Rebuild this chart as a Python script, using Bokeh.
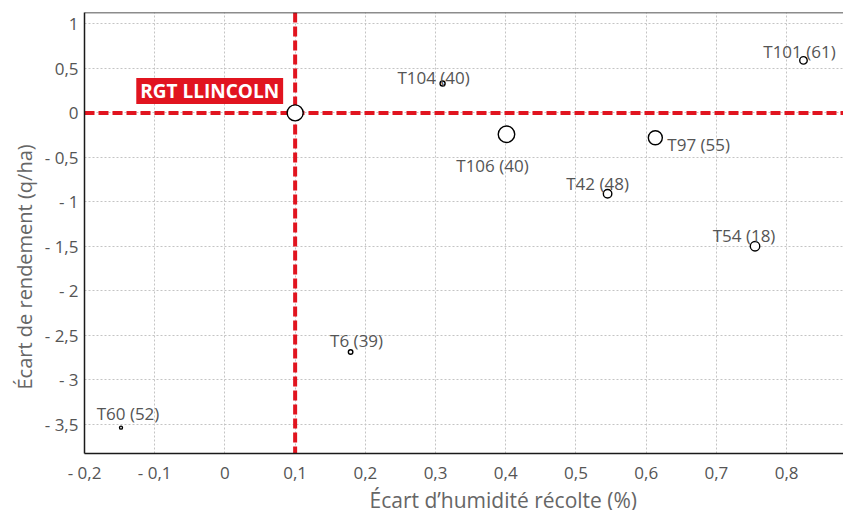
from bokeh.plotting import figure
from bokeh.models import (ColumnDataSource, FixedTicker, CustomJSTickFormatter, Span, Label,
                          Range1d, Title)
from bokeh.core.properties import value
from bokeh.embed import file_html
from bokeh.resources import INLINE

# ---- data ----
noms = ["RGT LLINCOLN", "T104 (40)", "T106 (40)", "T97 (55)", "T42 (48)",
        "T101 (61)", "T54 (18)", "T6 (39)", "T60 (52)"]
humidite = [0.10, 0.310, 0.401, 0.613, 0.545, 0.824, 0.755, 0.179, -0.148]
rendement = [0.00, 0.33, -0.24, -0.28, -0.91, 0.59, -1.50, -2.69, -3.54]
poids = [16, 5, 16.5, 14, 8.5, 7.5, 9.5, 4.5, 3]  # relative bubble weight

x_ticks = [-0.2, -0.1, 0.0, 0.1, 0.2, 0.3, 0.4, 0.5, 0.6, 0.7, 0.8]
y_ticks = [-3.5, -3.0, -2.5, -2.0, -1.5, -1.0, -0.5, 0.0, 0.5, 1.0]
ref_x, ref_y = 0.10, 0.0
x_title = "Écart d’humidité récolte (%)"
y_title = "Écart de rendement (q/ha)"

# ---- label placement (style) ----
lab_dx = [0, -9, -14, 12, -10, -4, -11, 6, 7]
lab_dy = [0, -6, 31, 7, -10, -9, -11, -12, -14]
lab_align = ["center", "center", "center", "left", "center", "center", "center", "center", "center"]

FONT = "Open Sans"
RED = "#e1141f"
TXT = "#555555"
Y_END = 1.129

p = figure(width=843, height=510, output_backend="svg", toolbar_location=None,
           x_range=Range1d(-0.2, 0.881), y_range=Range1d(-3.831, Y_END),
           min_border_left=84, min_border_right=0, min_border_top=12, min_border_bottom=54)
p.outline_line_color = None
p.background_fill_color = "white"

for ax in (p.xaxis[0], p.yaxis[0]):
    ax.major_tick_line_color = None
    ax.minor_tick_line_color = None
    ax.major_tick_out = 0
    ax.major_tick_in = 0
    ax.axis_line_color = "#1a1a1a"
    ax.axis_line_width = 1.5
    ax.major_label_text_font = FONT
    ax.major_label_text_font_size = "17px"
    ax.major_label_text_color = TXT

fmt_code = """
const v = Math.round(tick*100)/100;
if (Math.abs(v) < 1e-9) return "0";
const s = Math.abs(v).toString().replace(".", ",");
return v < 0 ? "- " + s : s;
"""
p.xaxis.ticker = FixedTicker(ticks=x_ticks)
p.yaxis.ticker = FixedTicker(ticks=y_ticks)
p.xaxis.formatter = CustomJSTickFormatter(code=fmt_code)
p.yaxis.formatter = CustomJSTickFormatter(code=fmt_code)
p.xaxis.major_label_standoff = 7
p.yaxis.major_label_standoff = 6

for g in (p.xgrid[0], p.ygrid[0]):
    g.grid_line_color = "#c4c4c4"
    g.grid_line_dash = "2 2"
    g.grid_line_width = 1

# top border line
p.add_layout(Span(location=Y_END, dimension="width", line_color="#1a1a1a", line_width=1.5))

# reference lines
p.add_layout(Span(location=ref_x, dimension="height", line_color=RED, line_width=4,
                  line_dash="10 4", level="underlay"))
p.add_layout(Span(location=ref_y, dimension="width", line_color=RED, line_width=4,
                  line_dash="10 4", level="underlay"))

src = ColumnDataSource(dict(x=humidite, y=rendement, nom=noms, taille=poids))
p.scatter("x", "y", size="taille", source=src, fill_color="white",
          line_color="black", line_width=1.4)

lab_src = ColumnDataSource(dict(x=humidite[1:], y=rendement[1:], nom=noms[1:],
                                dx=lab_dx[1:], dy=lab_dy[1:], align=lab_align[1:]))
p.text("x", "y", text="nom", source=lab_src, x_offset="dx", y_offset="dy",
       text_align="align", text_baseline="alphabetic",
       text_font=value(FONT), text_font_size="17px", text_color=TXT)

p.add_layout(Label(x=humidite[0], y=rendement[0], text=noms[0], x_offset=-12, y_offset=22,
                   text_align="right", text_baseline="alphabetic",
                   text_font=FONT, text_font_size="19px", text_font_style="bold",
                   text_color="white", background_fill_color=RED, padding=(4, 0)))

# axis titles
p.add_layout(Title(text=x_title, align="left", offset=285, standoff=-6,
                   text_font=FONT, text_font_size="21px", text_font_style="normal",
                   text_color="#666666"), "below")
p.add_layout(Title(text=y_title, align="left", offset=64, standoff=7,
                   text_font=FONT, text_font_size="20px", text_font_style="normal",
                   text_color="#666666"), "left")

open("out.html", "w").write(file_html(p, INLINE))
